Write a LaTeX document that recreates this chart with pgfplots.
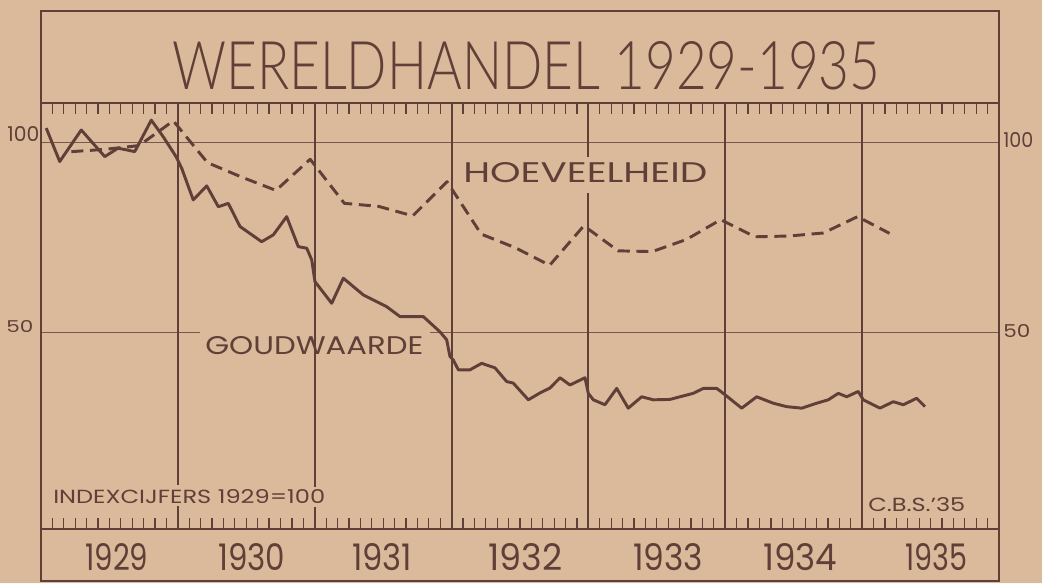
\documentclass[border=0pt]{standalone}
\usepackage{pgfplots}
\pgfplotsset{compat=1.18}
\usepackage{graphicx}
\usepackage{fontspec}
\setmainfont{Poppins}
\IfFontExistsTF{FiraSans-ExtraLight.otf}{\newfontfamily\thin{FiraSans-ExtraLight.otf}}{%
 \IfFontExistsTF{FiraSans-Light.otf}{\newfontfamily\thin{FiraSans-Light.otf}}{%
  \IfFontExistsTF{Lato-Light.ttf}{\newfontfamily\thin{Lato-Light.ttf}}{%
   \IfFontExistsTF{OpenSans-Light.ttf}{\newfontfamily\thin{OpenSans-Light.ttf}}{%
    \newfontfamily\thin{Poppins}}}}}
\IfFontExistsTF{FiraSans-Light.otf}{\newfontfamily\light{FiraSans-Light.otf}}{%
  \newfontfamily\light{Poppins}}
\definecolor{paper}{RGB}{218,186,155}
\definecolor{ink}{RGB}{98,62,56}

\begin{document}
\begin{tikzpicture}
\begin{scope}[x=0.75pt,y=-0.75pt]
\fill[paper] (0,0) rectangle (1042,583);
\end{scope}
\begin{axis}[
  at={(30.75pt,-396.75pt)}, anchor=south west,
  scale only axis, width=718.5pt, height=319.5pt,
  xmin=0, xmax=84, ymin=-1.6, ymax=110.5,
  axis line style={ink, line width=1.6pt},
  xtick={12,24,36,48,60,72}, xticklabels={},
  minor xtick={1,...,83},
  ytick=\empty,
  major tick length=0pt,
  minor tick length=8pt,
  tick align=inside,
  minor tick style={ink, line width=0.9pt},
  clip=false,
]
% horizontal reference lines
\draw[ink!80!paper, line width=0.8pt] (axis cs:0,100) -- (axis cs:84,100);
\draw[ink!80!paper, line width=0.8pt] (axis cs:0,50) -- (axis cs:13.94,50);
\draw[ink!80!paper, line width=0.8pt] (axis cs:34.1,50) -- (axis cs:84,50);
% year lines
\draw[ink, line width=1.4pt] (axis cs:12,110.5) -- (axis cs:12,10);
\draw[ink, line width=1.4pt] (axis cs:12,4.5) -- (axis cs:12,-1.6);
\draw[ink, line width=1.4pt] (axis cs:24,110.5) -- (axis cs:24,9.5);
\draw[ink, line width=1.4pt] (axis cs:24,4.2) -- (axis cs:24,-1.6);
\draw[ink, line width=1.4pt] (axis cs:36,110.5) -- (axis cs:36,-1.6);
\draw[ink, line width=1.4pt] (axis cs:48,110.5) -- (axis cs:48,96.3);
\draw[ink, line width=1.4pt] (axis cs:48,86.8) -- (axis cs:48,-1.6);
\draw[ink, line width=1.4pt] (axis cs:60,110.5) -- (axis cs:60,-1.6);
\draw[ink, line width=1.4pt] (axis cs:72,110.5) -- (axis cs:72,-1.6);

% GOUDWAARDE (gold value), monthly
\addplot[ink, line width=2.2pt, line join=round] coordinates {
(0.46,103.9) (1.64,95.1) (3.53,103.4) (5.59,96.4) (6.75,98.6) (7.45,98.2)
(8.22,97.7) (9.67,106) (10.70,101.7) (11.84,96.4) (12.34,93.3) (13.35,85)
(14.53,88.7) (15.55,83.2) (16.42,84.1) (17.45,78) (19.35,74) (20.37,75.8)
(21.54,80.6) (22.56,72.7) (23.30,72.3) (23.74,69.2) (24.02,63.5) (25.49,57.8)
(26.51,64.4) (28.26,60) (30.31,56.9) (31.48,54.3) (33.52,54.3) (34.98,50.3)
(35.57,48.2) (35.86,43.8) (36.15,42.9) (36.59,40.3) (37.62,40.3) (38.64,42)
(39.81,40.8) (40.83,37.2) (41.41,36.8) (42.73,32.4) (43.75,34.2) (44.63,35.5)
(45.51,38.2) (46.38,36.3) (47.70,38.2) (47.99,34.1) (48.43,32.4) (49.45,31.1)
(50.48,35.4) (51.49,30.2) (52.67,33.2) (53.69,32.4) (55.15,32.5) (56.03,33.2)
(57.19,34.1) (58.07,35.4) (59.25,35.4) (59.82,34.1) (61.44,30.2) (62.75,33.2)
(64.21,31.5) (65.38,30.6) (66.70,30.2) (68.01,31.5) (69.03,32.4) (69.91,34.1)
(70.65,33.2) (71.66,34.6) (72.10,32.4) (73.56,30.2) (74.73,31.9) (75.61,31.1)
(76.78,32.8) (77.51,30.6)
};
% HOEVEELHEID (quantity), quarterly
\addplot[ink, line width=2.2pt, line join=round, dash pattern=on 9pt off 5pt] coordinates {
(2.66,97.7) (5.6,98.3) (8.6,99.3) (11.6,105.8) (14.6,94.8) (17.6,91)
(20.6,87.5) (23.6,95.7) (26.6,84.1) (29.6,83.3) (32.6,80.8) (35.6,89.8)
(38.6,76) (41.6,72.4) (44.6,67.8) (47.6,78.2) (50.6,71.6) (53.6,71.4)
(56.6,74.6) (59.6,79.8) (62.6,75.3) (65.6,75.5) (68.6,76.3) (71.6,80.6)
(74.4,76.2)
};
\end{axis}
\begin{scope}[x=0.75pt,y=-0.75pt, every node/.style={inner sep=0pt, anchor=south west, text=ink}]
\draw[ink, line width=1.6pt] (41,11) rectangle (999,581);
\node at (172,90) {\resizebox{531pt}{36pt}{\thin WERELDHANDEL 1929-1935}};
\node at (463,183) {\resizebox{183pt}{15pt}{HOEVEELHEID}};
\node at (205,355) {\resizebox{163.5pt}{13.5pt}{GOUDWAARDE}};
\node at (53,504) {\resizebox{204pt}{10.5pt}{INDEXCIJFERS 1929=100}};
\node at (868,512) {\resizebox{72.75pt}{10.5pt}{C.B.S.'35}};
\node at (7,142) {\resizebox{24pt}{11.25pt}{\light 100}};
\node at (1003,148) {\resizebox{22.5pt}{11.25pt}{\light 100}};
\node at (6,333) {\resizebox{20.25pt}{9pt}{\light 50}};
\node at (1003,338) {\resizebox{20.25pt}{9.75pt}{\light 50}};
\node at (85,571) {\resizebox{47.25pt}{20.25pt}{\light 1929}};
\node at (218,571) {\resizebox{50.25pt}{20.25pt}{\light 1930}};
\node at (352,571) {\resizebox{45pt}{20.25pt}{\light 1931}};
\node at (488,571) {\resizebox{55.5pt}{20.25pt}{\light 1932}};
\node at (633,571) {\resizebox{52.5pt}{20.25pt}{\light 1933}};
\node at (763,571) {\resizebox{55.5pt}{20.25pt}{\light 1934}};
\node at (905,571) {\resizebox{46.5pt}{20.25pt}{\light 1935}};
\end{scope}
\end{tikzpicture}
\end{document}
